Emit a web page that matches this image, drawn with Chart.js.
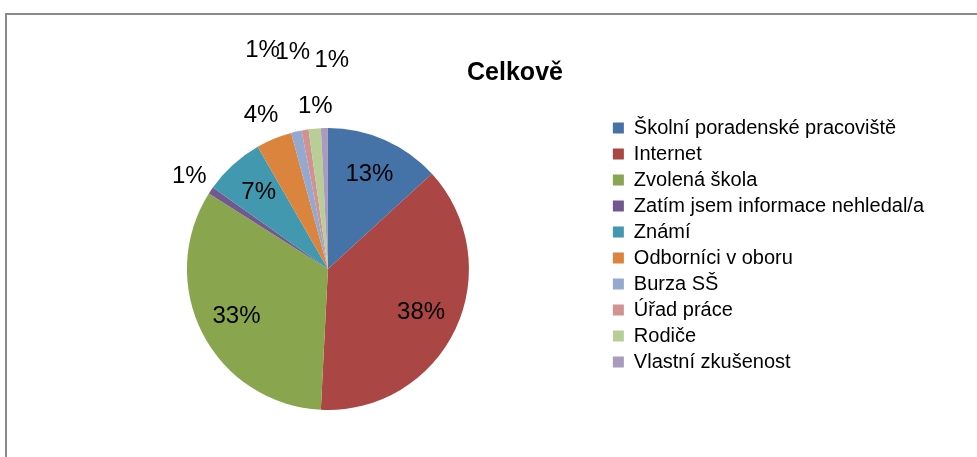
<!DOCTYPE html>
<html>
<head>
<meta charset="utf-8">
<script src="https://cdn.jsdelivr.net/npm/chart.js@4"></script>
<style>
  html, body { margin: 0; padding: 0; background: #fff; overflow: hidden; }
  #frame { position: absolute; left: 5px; top: 13px; width: 1100px; height: 600px;
           border-left: 2px solid #8a8a8a; border-top: 2px solid #8a8a8a; }
  #pie1 { position: absolute; left: 0; top: 0; }
</style>
</head>
<body>
<div id="frame"></div>
<canvas id="pie1" width="977" height="457"></canvas>
<script>
const categories = [
  "Školní poradenské pracoviště",
  "Internet",
  "Zvolená škola",
  "Zatím jsem informace nehledal/a",
  "Známí",
  "Odborníci v oboru",
  "Burza SŠ",
  "Úřad práce",
  "Rodiče",
  "Vlastní zkušenost"
];
// share of answers in %
const shares = [13.2, 37.6, 33.2, 0.8, 6.9, 4.1, 1.2, 0.8, 1.4, 0.8];
const colors = ["#4572A7", "#AA4643", "#89A54E", "#71588F", "#4198AF",
                "#DB843D", "#93A9CF", "#D19392", "#B9CD96", "#A99BBD"];
// extra shift of the small outside labels (Excel pushed them apart)
const labelNudge = [[0, 0], [0, 0], [0, 0], [0, 0], [0, 0],
                    [-3, 1], [-28, -56], [-8, -52], [3, 4], [8, -42]];

const FONT = "'Liberation Sans', Arial, sans-serif";

const pctLabels = {
  id: "pctLabels",
  afterDatasetsDraw(chart) {
    const ctx = chart.ctx;
    const meta = chart.getDatasetMeta(0);
    const total = shares.reduce((a, b) => a + b, 0);
    ctx.save();
    ctx.font = "24px " + FONT;
    ctx.fillStyle = "#000";
    ctx.textAlign = "center";
    ctx.textBaseline = "middle";
    meta.data.forEach((arc, i) => {
      const p = arc.getProps(["x", "y", "startAngle", "endAngle", "outerRadius"], true);
      const mid = (p.startAngle + p.endAngle) / 2;
      const pct = shares[i] / total * 100;
      let r = pct >= 5 ? p.outerRadius * 0.73 : p.outerRadius + 26;
      let x = p.x + Math.cos(mid) * r + labelNudge[i][0];
      let y = p.y + Math.sin(mid) * r + labelNudge[i][1];
      ctx.fillText(Math.round(pct) + "%", x, y);
    });
    // chart title
    ctx.font = "bold 25px " + FONT;
    ctx.fillText("Celkově", 515, 73);
    ctx.restore();
  }
};

new Chart(document.getElementById("pie1"), {
  type: "pie",
  data: {
    labels: categories,
    datasets: [{
      data: shares,
      backgroundColor: colors,
      borderWidth: 0,
      radius: 141
    }]
  },
  options: {
    responsive: false,
    animation: false,
    layout: { padding: { left: 49, right: 43, top: 112, bottom: 31 } },
    plugins: {
      title: { display: false },
      tooltip: { enabled: false },
      legend: {
        position: "right",
        align: "start",
        labels: {
          boxWidth: 11,
          boxHeight: 11,
          padding: 6,
          color: "#000",
          font: { family: FONT, size: 20, lineHeight: 1 }
        }
      }
    }
  },
  plugins: [pctLabels]
});
</script>
</body>
</html>
